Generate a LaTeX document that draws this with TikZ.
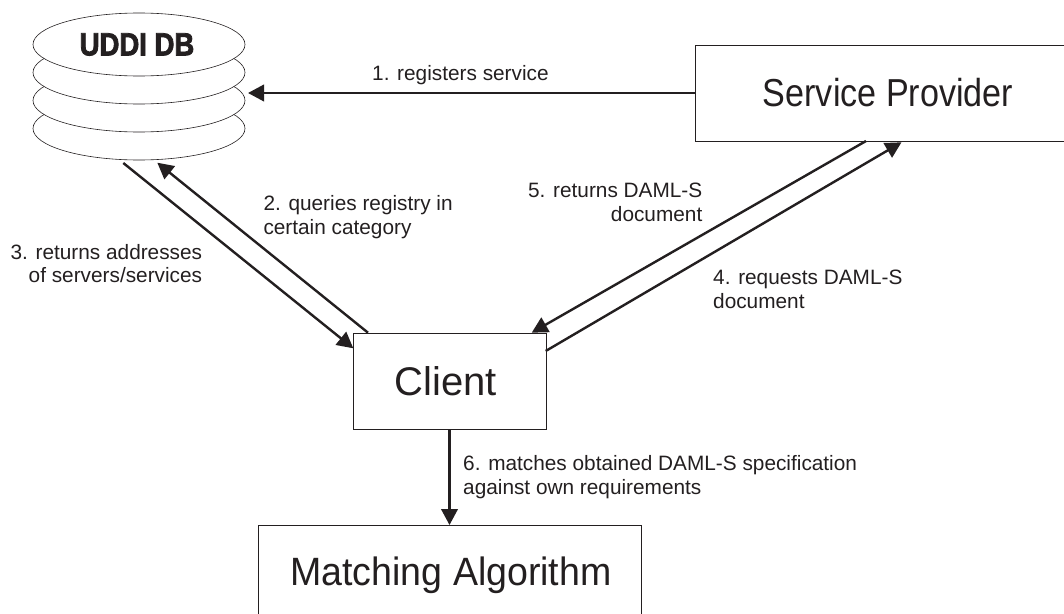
\documentclass[tikz,border=0pt]{standalone}
\usepackage{fontspec}
\setmainfont{Liberation Sans}
\newfontfamily\uddifont[FakeStretch=0.86,FakeBold=2.5]{Liberation Sans Bold}
\newfontfamily\spfont[FakeStretch=0.875]{Liberation Sans}
\newfontfamily\mafont[FakeStretch=0.95]{Liberation Sans}
\usetikzlibrary{shapes.geometric,arrows.meta}
\definecolor{ink}{HTML}{231F20}
\tikzset{
 px/.style={x=1pt,y=-1pt},
 boxn/.style={draw=ink,text=ink,line width=0.9pt,fill=white,inner sep=0pt},
 disk/.style={draw=ink,text=ink,line width=0.6pt,fill=white,ellipse,minimum width=212pt,minimum height=63pt,inner sep=0pt},
 conn/.style={draw=ink,line width=2.4pt,-{Triangle[length=16pt,width=16.5pt]}},
 lab/.style={text=ink,font=\fontsize{20.8}{23.6}\selectfont,inner sep=0pt,align=left}
}
\begin{document}
\begin{tikzpicture}[px]
\useasboundingbox (0,0) rectangle (1064,613);
\clip (0,0) rectangle (1064,613);
\node[disk] (d4) at (139,128.5) {};
\node[disk] (d3) at (139,100.5) {};
\node[disk] (d2) at (139,72.5) {};
\node[disk,font=\fontsize{32}{34}\uddifont] (d1) at (139,44.5) {UDDI DB\hspace*{4pt}};
\node[boxn,font=\fontsize{39}{42}\spfont,minimum width=369.5pt,minimum height=96pt] (sp) at (880.5,93) {\hspace*{15pt}Service Provider};
\node[boxn,font=\fontsize{40}{44}\selectfont,minimum width=193pt,minimum height=96pt] (cl) at (449.5,381) {Client\hspace*{7pt}};
\node[boxn,font=\fontsize{39.5}{43}\mafont,minimum width=383pt,minimum height=100pt,anchor=north] (ma) at (449.5,525) {\hspace*{3pt}Matching Algorithm};
\coordinate (a1) at (248,93);
\draw[conn] (sp.west) -- (a1);
\coordinate (q0) at (368,332.7); \coordinate (q1) at (157.3,162.7);
\draw[conn] (q0) -- (q1);
\coordinate (r0) at (123.3,163); \coordinate (r1) at (353.3,348.3);
\draw[conn] (r0) -- (r1);
\coordinate (s0) at (866,141); \coordinate (s1) at (531.7,332.7);
\draw[conn] (s0) -- (s1);
\coordinate (t0) at (545.7,351); \coordinate (t1) at (901.5,142.3);
\draw[conn] (t0) -- (t1);
\draw[conn] (cl.south) -- (ma.north);
\node[lab,anchor=base west] (l1) at (372,80.7) {1. registers service};
\node[lab,anchor=north west] (l2) at (263.3,195.6) {2. queries registry in\\certain category};
\node[lab,anchor=north east,align=right] (l3) at (202.3,244) {3. returns addresses\\of servers/services};
\node[lab,anchor=north west] (l4) at (713,270) {4. requests DAML-S\\document};
\node[lab,anchor=north east,align=right] (l5) at (702.5,183) {5. returns DAML-S\\document};
\node[lab,anchor=north west] (l6) at (463,455.5) {6. matches obtained DAML-S specification\\against own requirements};
\end{tikzpicture}
\end{document}
